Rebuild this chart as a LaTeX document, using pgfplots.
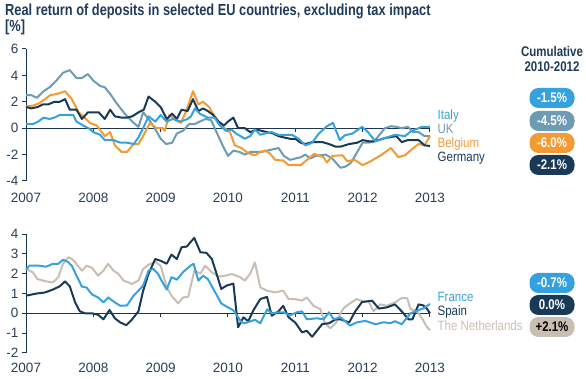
\documentclass[border=0pt]{standalone}
\usepackage{fontspec}
\setmainfont{Liberation Sans}
\newfontfamily\condfont{Liberation Sans}[FakeStretch=0.85]
\newfontfamily\condbold{Liberation Sans Bold}[FakeStretch=0.82]
\newfontfamily\titlefont{Liberation Sans Bold}[FakeStretch=0.80]
\usepackage{pgfplots}
\pgfplotsset{compat=1.18}
\definecolor{cItaly}{HTML}{35A2DD}
\definecolor{cUK}{HTML}{6D9BB3}
\definecolor{cBel}{HTML}{F39A32}
\definecolor{cGer}{HTML}{183A57}
\definecolor{cNL}{HTML}{C9BEB3}
\definecolor{cNavy}{HTML}{1B3550}
\definecolor{cTitle}{HTML}{1F3B5C}
\definecolor{cTick}{HTML}{2B3F58}
\pgfplotsset{
  panel/.style={
    scale only axis, width=404pt,
    xmin=2007, xmax=2013,
    axis y line*=left, axis x line*=bottom,
    x axis line style={draw=none},
    y axis line style={cNavy, line width=1pt},
    xtick={2007,2008,...,2013},
    major x tick style={draw=none},
    major y tick style={cNavy, line width=1pt},
    tick align=outside, major tick length=4pt,
    /pgf/number format/assume math mode=true,
    /pgf/number format/1000 sep={},
    tick label style={font=\fontsize{13.5}{13.5}\selectfont, text=cTick},
    every axis plot/.append style={line width=2pt, line join=round, no markers},
    clip=false,
  }
}
\begin{document}
\begin{tikzpicture}
\useasboundingbox (0pt,0pt) rectangle (586pt,379pt);
% titles
\node[anchor=base west, inner sep=0pt, text=cTitle, font=\titlefont\fontsize{16}{16}\selectfont] at (5pt,363pt) {Real return of deposits in selected EU countries, excluding tax impact};
\node[anchor=base west, inner sep=0pt, text=cTitle, font=\titlefont\fontsize{16}{16}\selectfont] at (5pt,347pt) {[\%]};
% ---------------- top panel
\begin{axis}[panel, height=132pt, at={(26pt,198pt)}, anchor=south west,
  ymin=-4, ymax=6, ytick={-4,-2,...,6},
  xticklabel style={yshift=-5pt}]
\draw[cNavy, line width=1pt] (axis cs:2007,0) -- (axis cs:2013,0);
\pgfplotsinvokeforeach{2008,2009,2010,2011,2012,2013}{\draw[cNavy, line width=1pt] (axis cs:#1,0) -- ++(0pt,-4pt);}
% UK
\addplot[cUK] coordinates {(2007.0,2.5) (2007.08,2.5) (2007.16,2.3) (2007.26,2.8) (2007.35,3.1) (2007.45,3.6) (2007.55,4.2) (2007.65,4.4) (2007.75,3.8) (2007.83,3.8) (2007.92,4.1) (2008.0,3.6) (2008.1,3.2) (2008.17,3.1) (2008.25,2.6) (2008.33,2.0) (2008.42,1.4) (2008.5,0.9) (2008.6,0.4) (2008.67,0.1) (2008.74,1.2) (2008.82,0.7) (2008.9,0.1) (2009.0,-0.8) (2009.08,-1.2) (2009.17,-1.1) (2009.24,-0.4) (2009.33,-0.2) (2009.42,0.3) (2009.5,0.3) (2009.58,0.5) (2009.67,0.7) (2009.75,0.6) (2009.83,-0.3) (2009.92,-1.3) (2010.0,-2.1) (2010.08,-1.7) (2010.17,-1.8) (2010.25,-2.0) (2010.33,-1.8) (2010.42,-1.8) (2010.5,-1.8) (2010.58,-1.7) (2010.67,-1.6) (2010.75,-1.5) (2010.83,-2.1) (2010.92,-2.4) (2011.0,-2.3) (2011.08,-2.2) (2011.15,-2.0) (2011.22,-2.3) (2011.3,-2.1) (2011.45,-2.0) (2011.55,-2.3) (2011.67,-3.0) (2011.75,-2.9) (2011.83,-2.6) (2011.92,-1.8) (2012.0,-1.1) (2012.08,-1.1) (2012.17,-1.0) (2012.25,-0.5) (2012.33,0.0) (2012.42,0.15) (2012.5,0.1) (2012.58,0.0) (2012.67,0.1) (2012.75,-0.3) (2012.83,-0.3) (2012.92,-0.6) (2013.0,-0.6)};
% Belgium
\addplot[cBel] coordinates {(2007.0,1.7) (2007.1,1.7) (2007.2,1.9) (2007.28,2.2) (2007.36,2.5) (2007.46,2.6) (2007.58,2.8) (2007.68,2.2) (2007.78,1.2) (2007.85,0.9) (2007.95,0.4) (2008.05,0.2) (2008.17,-0.6) (2008.25,-0.3) (2008.32,-1.3) (2008.42,-1.8) (2008.5,-1.8) (2008.6,-1.2) (2008.67,-1.2) (2008.74,-0.6) (2008.84,0.4) (2008.94,0.0) (2009.03,0.0) (2009.06,-0.2) (2009.13,1.0) (2009.22,0.6) (2009.3,0.4) (2009.38,1.3) (2009.44,2.2) (2009.48,2.8) (2009.56,1.8) (2009.63,2.0) (2009.72,1.6) (2009.8,0.9) (2009.9,0.2) (2010.0,-0.2) (2010.03,-0.3) (2010.1,-1.3) (2010.2,-1.5) (2010.3,-1.9) (2010.4,-2.05) (2010.48,-1.8) (2010.55,-1.7) (2010.62,-1.9) (2010.7,-2.4) (2010.82,-2.45) (2010.9,-2.8) (2011.08,-2.8) (2011.15,-2.5) (2011.28,-1.95) (2011.42,-2.2) (2011.47,-2.6) (2011.55,-2.1) (2011.7,-2.05) (2011.77,-2.5) (2011.88,-2.4) (2012.0,-2.8) (2012.12,-2.5) (2012.27,-2.05) (2012.42,-1.5) (2012.53,-2.2) (2012.63,-2.05) (2012.73,-1.6) (2012.83,-1.2) (2012.92,-1.3) (2013.0,-0.6)};
% Germany
\addplot[cGer] coordinates {(2007.0,1.6) (2007.08,1.5) (2007.17,1.6) (2007.25,1.8) (2007.33,1.8) (2007.42,2.0) (2007.5,2.0) (2007.58,2.2) (2007.65,1.4) (2007.75,1.4) (2007.83,0.7) (2007.92,1.2) (2008.0,1.2) (2008.08,1.2) (2008.17,0.7) (2008.25,1.4) (2008.32,0.9) (2008.42,0.8) (2008.5,0.8) (2008.58,0.9) (2008.67,1.2) (2008.75,1.4) (2008.82,2.4) (2008.92,2.0) (2009.0,1.6) (2009.09,0.7) (2009.17,1.1) (2009.24,0.7) (2009.31,1.4) (2009.4,1.3) (2009.48,2.2) (2009.56,1.3) (2009.63,1.5) (2009.7,1.3) (2009.78,1.0) (2009.86,0.5) (2009.94,0.2) (2010.0,0.5) (2010.08,0.8) (2010.15,0.0) (2010.25,0.0) (2010.33,-0.3) (2010.42,-0.1) (2010.5,-0.2) (2010.58,-0.3) (2010.67,-0.4) (2010.75,-0.6) (2010.83,-0.7) (2010.92,-0.8) (2011.0,-0.8) (2011.08,-1.1) (2011.15,-1.2) (2011.25,-1.05) (2011.4,-1.05) (2011.5,-1.2) (2011.6,-1.4) (2011.67,-1.4) (2011.8,-1.2) (2011.92,-1.1) (2012.0,-0.9) (2012.1,-1.0) (2012.17,-1.0) (2012.33,-0.75) (2012.5,-0.6) (2012.58,-1.05) (2012.67,-0.9) (2012.83,-0.9) (2012.92,-1.3) (2013.0,-1.35)};
% Italy
\addplot[cItaly] coordinates {(2007.0,0.3) (2007.1,0.3) (2007.18,0.5) (2007.26,0.8) (2007.35,0.7) (2007.42,0.8) (2007.5,1.0) (2007.6,1.0) (2007.7,1.0) (2007.75,0.5) (2007.85,0.2) (2007.93,0.0) (2008.0,-0.3) (2008.1,-0.5) (2008.17,-0.9) (2008.3,-0.9) (2008.4,-1.1) (2008.5,-1.1) (2008.6,-1.2) (2008.67,-0.7) (2008.74,0.0) (2008.82,0.9) (2008.92,0.5) (2009.0,1.0) (2009.09,0.5) (2009.18,0.7) (2009.3,0.5) (2009.4,0.7) (2009.45,0.9) (2009.51,1.5) (2009.58,1.1) (2009.7,0.8) (2009.8,0.8) (2009.88,0.2) (2009.97,-0.2) (2010.05,-0.1) (2010.12,-0.4) (2010.25,-0.8) (2010.33,-0.6) (2010.4,-0.1) (2010.48,-0.5) (2010.55,-0.4) (2010.65,-0.3) (2010.75,-0.5) (2010.85,-0.5) (2010.95,-0.5) (2011.05,-0.8) (2011.15,-1.3) (2011.25,-1.1) (2011.35,-0.4) (2011.47,0.15) (2011.56,0.4) (2011.66,-0.9) (2011.73,-0.55) (2011.85,-0.4) (2011.99,0.1) (2012.08,-0.3) (2012.19,-1.0) (2012.3,-0.8) (2012.48,-0.5) (2012.63,-0.6) (2012.7,-0.3) (2012.78,-0.1) (2012.88,0.1) (2013.0,0.1)};
\end{axis}
% ---------------- bottom panel
\begin{axis}[panel, height=119pt, at={(26pt,26pt)}, anchor=south west,
  ymin=-2, ymax=4, ytick={-2,-1,...,4},
  xticklabel style={yshift=-3pt}]
\draw[cNavy, line width=1pt] (axis cs:2007,0) -- (axis cs:2013,0);
\pgfplotsinvokeforeach{2008,2009,2010,2011,2012,2013}{\draw[cNavy, line width=1pt] (axis cs:#1,0) -- ++(0pt,-4pt);}
% Netherlands
\addplot[cNL] coordinates {(2007.0,2.24) (2007.1,2.07) (2007.17,1.73) (2007.3,1.61) (2007.4,1.56) (2007.48,1.82) (2007.55,2.5) (2007.63,2.83) (2007.7,2.7) (2007.83,2.15) (2007.9,2.4) (2007.98,2.3) (2008.07,1.9) (2008.15,2.15) (2008.22,2.5) (2008.3,2.15) (2008.37,2.0) (2008.45,1.65) (2008.52,1.56) (2008.57,1.48) (2008.67,1.65) (2008.74,2.24) (2008.82,2.45) (2008.92,2.6) (2009.0,2.4) (2009.09,1.31) (2009.16,0.89) (2009.26,0.5) (2009.33,0.8) (2009.41,0.84) (2009.5,2.15) (2009.59,2.0) (2009.66,2.4) (2009.76,2.07) (2009.86,1.85) (2009.96,1.9) (2010.06,1.98) (2010.18,1.82) (2010.25,1.65) (2010.33,2.0) (2010.4,2.57) (2010.48,1.31) (2010.58,1.14) (2010.7,1.06) (2010.82,1.14) (2010.9,0.72) (2011.0,0.72) (2011.1,0.64) (2011.17,0.8) (2011.27,0.38) (2011.37,0.22) (2011.44,-0.5) (2011.52,-0.75) (2011.6,-0.5) (2011.67,0.0) (2011.72,0.27) (2011.81,0.5) (2011.91,0.72) (2012.01,0.6) (2012.09,0.6) (2012.16,0.1) (2012.26,0.45) (2012.36,0.38) (2012.48,0.55) (2012.58,0.77) (2012.66,0.77) (2012.71,0.22) (2012.81,0.1) (2012.89,-0.3) (2012.95,-0.67) (2013.0,-0.86)};
% Spain
\addplot[cGer] coordinates {(2007.0,0.89) (2007.16,1.0) (2007.28,1.05) (2007.4,1.2) (2007.5,1.36) (2007.58,1.61) (2007.65,1.36) (2007.73,0.55) (2007.8,0.1) (2007.88,0.0) (2007.98,0.0) (2008.07,-0.07) (2008.15,-0.3) (2008.24,0.17) (2008.32,-0.25) (2008.4,-0.46) (2008.49,-0.6) (2008.57,-0.33) (2008.67,0.1) (2008.74,1.14) (2008.82,2.0) (2008.92,2.74) (2009.0,2.65) (2009.09,2.5) (2009.16,2.96) (2009.24,2.74) (2009.31,3.33) (2009.39,3.37) (2009.44,3.58) (2009.5,3.8) (2009.59,3.08) (2009.68,3.05) (2009.76,2.74) (2009.83,2.0) (2009.9,1.23) (2009.98,1.4) (2010.08,1.5) (2010.15,-0.7) (2010.23,-0.2) (2010.3,-0.4) (2010.38,0.17) (2010.48,0.72) (2010.58,0.83) (2010.65,-0.12) (2010.75,0.1) (2010.82,0.38) (2010.9,-0.2) (2011.0,-0.47) (2011.1,-0.96) (2011.17,-0.88) (2011.25,-1.18) (2011.32,-0.88) (2011.4,-0.54) (2011.5,-0.5) (2011.6,-0.3) (2011.67,-0.3) (2011.8,-0.46) (2011.89,0.1) (2011.99,0.57) (2012.06,0.6) (2012.14,0.64) (2012.24,0.24) (2012.36,0.3) (2012.48,0.45) (2012.58,0.1) (2012.68,-0.3) (2012.74,-0.3) (2012.83,0.45) (2012.9,0.4) (2012.95,0.25) (2013.0,0.0)};
% France
\addplot[cItaly] coordinates {(2007.0,2.2) (2007.05,2.4) (2007.2,2.4) (2007.3,2.35) (2007.4,2.5) (2007.48,2.5) (2007.55,2.7) (2007.62,2.6) (2007.68,2.4) (2007.75,1.9) (2007.83,1.35) (2007.9,1.3) (2007.98,0.95) (2008.07,0.8) (2008.15,0.55) (2008.22,0.8) (2008.32,0.55) (2008.4,0.38) (2008.5,0.4) (2008.6,0.9) (2008.67,1.14) (2008.74,1.4) (2008.82,2.15) (2008.89,2.24) (2008.96,2.0) (2009.0,1.73) (2009.09,1.2) (2009.16,1.82) (2009.24,1.7) (2009.33,2.07) (2009.44,2.4) (2009.49,2.5) (2009.56,1.65) (2009.63,1.9) (2009.7,1.73) (2009.81,1.06) (2009.9,0.5) (2010.0,0.3) (2010.08,0.15) (2010.13,-0.1) (2010.2,-0.45) (2010.25,-0.5) (2010.4,-0.33) (2010.48,-0.5) (2010.58,0.2) (2010.65,0.0) (2010.75,0.05) (2010.82,0.05) (2010.92,-0.1) (2011.02,0.05) (2011.1,0.1) (2011.17,-0.3) (2011.32,-0.25) (2011.42,-0.3) (2011.5,0.05) (2011.57,-0.3) (2011.67,-0.2) (2011.72,-0.34) (2011.81,-0.62) (2011.91,-0.46) (2012.04,-0.38) (2012.19,-0.55) (2012.31,-0.45) (2012.41,-0.5) (2012.48,-0.4) (2012.58,-0.55) (2012.71,0.0) (2012.81,0.13) (2012.9,0.25) (2013.0,0.47)};
\end{axis}
% ---------------- labels
\tikzset{lab/.style={anchor=base west, inner sep=0pt, font=\condfont\fontsize{13.5}{14}\selectfont},
  pill/.style={rounded corners=9pt, minimum width=45pt, minimum height=20pt, inner sep=0pt, text=white, font=\condbold\fontsize{14}{14}\selectfont}}
\node[lab, text=cItaly] at (437.5pt,259pt) {Italy};
\node[lab, text=cUK] at (437.5pt,245pt) {UK};
\node[lab, text=cBel] at (437.5pt,231pt) {Belgium};
\node[lab, text=cGer] at (437.5pt,217pt) {Germany};
\node[lab, text=cItaly] at (437.5pt,77pt) {France};
\node[lab, text=cGer] at (437.5pt,63pt) {Spain};
\node[lab, text=cNL] at (437.5pt,48pt) {The Netherlands};
\node[anchor=base, inner sep=0pt, text=cTitle, font=\condbold\fontsize{14}{14}\selectfont] at (552pt,322pt) {Cumulative};
\node[anchor=base, inner sep=0pt, text=cTitle, font=\condbold\fontsize{14}{14}\selectfont] at (552pt,307pt) {2010-2012};
\node[pill, fill=cItaly] at (552pt,281pt) {-1.5\%};
\node[pill, fill=cUK] at (552pt,258pt) {-4.5\%};
\node[pill, fill=cBel] at (552pt,236pt) {-6.0\%};
\node[pill, fill=cGer] at (552pt,214pt) {-2.1\%};
\node[pill, fill=cItaly] at (552pt,96pt) {-0.7\%};
\node[pill, fill=cGer] at (552pt,74pt) {0.0\%};
\node[pill, fill=cNL, text=black] at (552pt,52pt) {+2.1\%};
\end{tikzpicture}
\end{document}
